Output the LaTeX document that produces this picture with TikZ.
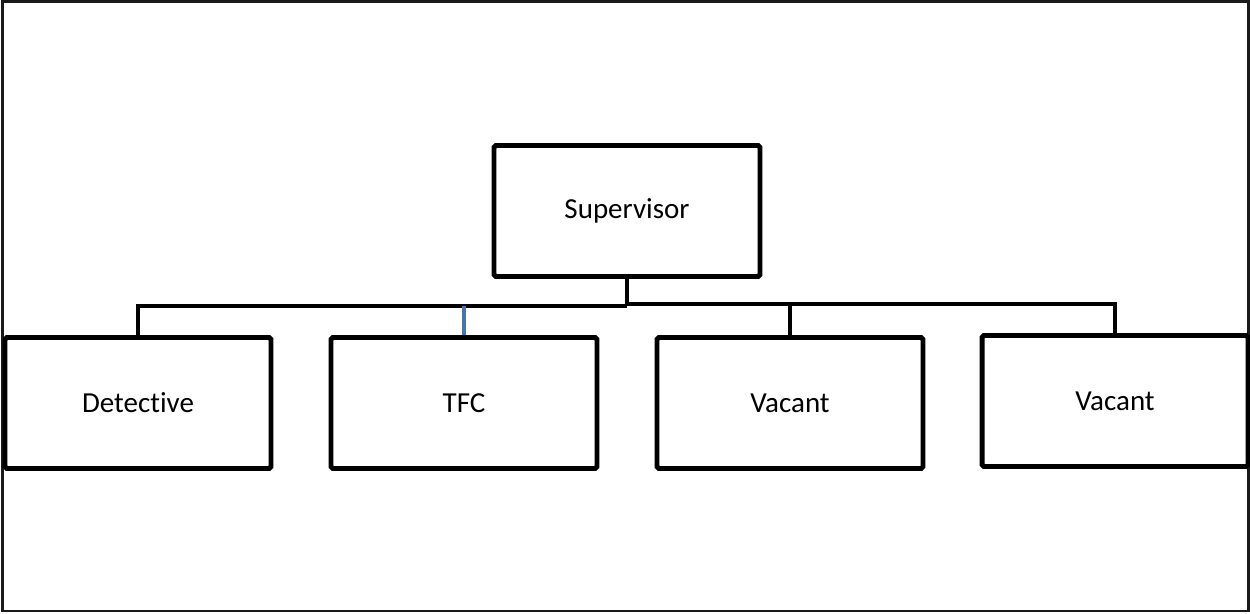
\documentclass[tikz,border=0pt]{standalone}
\usepackage{fontspec}
\setmainfont[Ligatures=NoCommon]{Carlito}
\usepackage{xcolor}
\usepackage{tikz}
\usetikzlibrary{positioning}
\definecolor{ink}{HTML}{000000}
\definecolor{framegray}{HTML}{1A1A1A}
\definecolor{linkblue}{HTML}{4A74A6}
\tikzset{
  orgbox/.style={
    draw=ink,
    line width=2.8pt,
    rounded corners=1pt,
    fill=white,
    minimum width=5.32cm,
    minimum height=2.62cm,
    align=center,
    text=ink,
    font=\fontsize{16.5}{19}\selectfont
  },
  linkline/.style={draw=ink, line width=2.8pt, line join=miter},
  bluelink/.style={linkline, draw=linkblue}
}
\begin{document}
\begin{tikzpicture}[x=0.02cm, y=-0.02cm]
  \useasboundingbox (0,0) rectangle (1250,613);
  \draw[framegray, line width=1.2pt] (2.5,1.5) rectangle (1248.5,611);

  \node[orgbox] (super) at (627,211) {Supervisor};

  \node[orgbox] (detective) at (138,403) {Detective};
  \node[orgbox] (tfc) at (464,403) {TFC};
  \node[orgbox] (vacanta) at (790,403) {Vacant};
  \node[orgbox] (vacantb) at (1115,401) {Vacant};

  \coordinate (busl) at (627,306);
  \coordinate (busr) at (627,304);

  \draw[linkline] (super.south) -- (busl);
  \draw[linkline] (detective.north) |- (busl);
  \draw[linkline] (vacanta.north) |- (busr);
  \draw[linkline] (vacantb.north) |- (busr);
  \draw[bluelink] (tfc.north) -- (tfc.north |- busl);
\end{tikzpicture}
\end{document}
